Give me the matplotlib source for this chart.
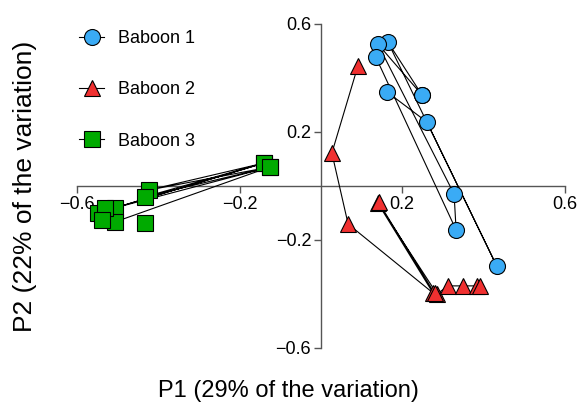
import numpy as np
import matplotlib
matplotlib.use('Agg')
import matplotlib.pyplot as plt

plt.rcParams['font.family'] = ['Liberation Sans', 'DejaVu Sans']

nan = np.nan

# Baboon 1 (paths split by nan)
b1_x = [0.249, 0.165, 0.433, 0.261, 0.163, nan, 0.249, 0.140, 0.328, 0.333, 0.135]
b1_y = [0.337, 0.533, -0.296, 0.237, 0.348, nan, 0.337, 0.526, -0.030, -0.163, 0.478]

# Baboon 2
b2_x = [0.091, 0.027, 0.067, 0.276, 0.140, 0.286, 0.313, 0.350, 0.384, 0.392, nan, 0.142, 0.280]
b2_y = [0.444, 0.122, -0.141, -0.396, -0.063, -0.400, -0.370, -0.370, -0.370, -0.370, nan, -0.060, -0.398]

# Baboon 3
b3_x = [-0.549, -0.140, -0.424, -0.126, -0.433, -0.140, -0.507, -0.126, -0.507,
        nan, -0.433, nan, -0.532, nan, -0.539]
b3_y = [-0.100, 0.085, -0.015, 0.070, -0.040, 0.085, -0.081, 0.070, -0.133,
        nan, -0.137, nan, -0.081, nan, -0.126]

labels = ['Baboon 1', 'Baboon 2', 'Baboon 3']
colors = ['#3aabf5', '#f03030', '#00aa00']
markers = ['o', '^', 's']

fig = plt.figure(figsize=(5.8, 4.13), dpi=100)
ax = fig.add_axes([0.0983, 0.1247, 0.910, 0.85])

series = [(b1_x, b1_y), (b2_x, b2_y), (b3_x, b3_y)]
for (xs, ys), lab, c, m in zip(series, labels, colors, markers):
    ax.plot(xs, ys, color='black', linewidth=0.8, marker=m, markersize=11.5,
            markerfacecolor=c, markeredgecolor='black', markeredgewidth=0.8,
            label=lab, zorder=3, clip_on=False)

ax.set_xlim(-0.65, 0.65)
ax.set_ylim(-0.65, 0.65)

for side in ['top', 'right']:
    ax.spines[side].set_visible(False)
ax.spines['left'].set_position(('data', 0))
ax.spines['bottom'].set_position(('data', 0))
ax.spines['left'].set_bounds(-0.6, 0.6)
ax.spines['bottom'].set_bounds(-0.6, 0.6)
for side in ['left', 'bottom']:
    ax.spines[side].set_color('#555555')
    ax.spines[side].set_linewidth(1.0)

ticks = [-0.6, -0.2, 0.2, 0.6]
tick_labels = ['\u22120.6', '\u22120.2', '0.2', '0.6']
ax.set_xticks(ticks)
ax.set_xticklabels(tick_labels)
ax.set_yticks(ticks)
ax.set_yticklabels(tick_labels)
ax.tick_params(direction='out', length=5, width=1, color='#555555',
               labelsize=13, pad=2)

fig.text(0.498, 0.053, 'P1 (29% of the variation)', fontsize=17,
         ha='center', va='center')
fig.text(0.043, 0.548, 'P2 (22% of the variation)', fontsize=19,
         ha='center', va='center', rotation=90)

ax.legend(loc='upper left', bbox_to_anchor=(0.137, 0.927), bbox_transform=fig.transFigure,
          frameon=False, fontsize=13, labelspacing=1.9, handlelength=1.35,
          handletextpad=0.8, borderpad=0, borderaxespad=0)

fig.savefig('out.png', dpi=100)
